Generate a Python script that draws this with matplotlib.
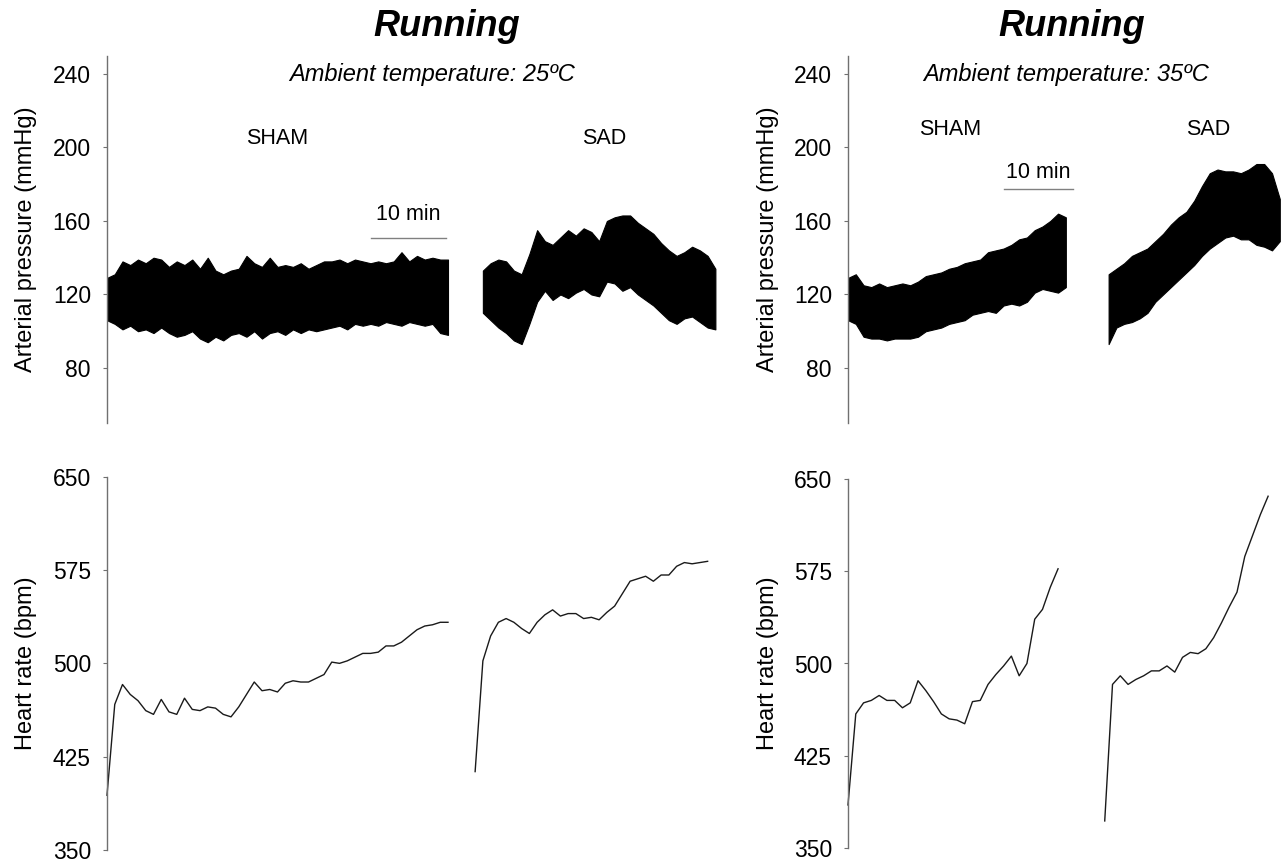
import numpy as np
import matplotlib
matplotlib.use("Agg")
import matplotlib.pyplot as plt

plt.rcParams['font.family'] = ['Liberation Sans', 'DejaVu Sans']

# ---- arterial pressure envelopes (mmHg), one sample per minute ----
# 25 C, SHAM
ap25_sham_hi = [129, 131, 138, 136, 139, 137, 140, 139, 135, 138, 136, 139, 134, 140, 133,
                131, 133, 134, 141, 137, 135, 140, 135, 136, 135, 137, 134, 136, 138, 138,
                139, 137, 139, 138, 137, 138, 137, 138, 143, 138, 141, 139, 140, 139, 139]
ap25_sham_lo = [106, 104, 101, 103, 100, 101, 99, 102, 99, 97, 98, 100, 96, 94, 97,
                95, 98, 99, 97, 100, 96, 99, 100, 98, 101, 99, 101, 100, 101, 102,
                103, 101, 104, 103, 104, 103, 105, 104, 103, 105, 104, 103, 104, 99, 98]
# 25 C, SAD (starts at 48.5 min)
ap25_sad_hi = [133, 137, 139, 138, 133, 131, 142, 155, 149, 147, 151, 155, 152, 156, 154,
               149, 160, 162, 163, 163, 159, 156, 153, 148, 144, 141, 143, 146, 144, 141, 134]
ap25_sad_lo = [110, 106, 102, 99, 95, 93, 104, 116, 122, 117, 120, 118, 121, 123, 120,
               119, 127, 126, 122, 124, 120, 117, 114, 110, 106, 104, 107, 108, 105, 102, 101]
# 35 C, SHAM
ap35_sham_hi = [129, 131, 125, 124, 126, 124, 125, 126, 125, 127, 130, 131, 132, 134, 135,
                137, 138, 139, 143, 144, 145, 147, 150, 151, 155, 157, 160, 164, 162]
ap35_sham_lo = [106, 104, 97, 96, 96, 95, 96, 96, 96, 97, 100, 101, 102, 104, 105,
                106, 109, 110, 111, 110, 114, 115, 114, 116, 121, 123, 122, 121, 124]
# 35 C, SAD (starts at 33.5 min)
ap35_sad_hi = [131, 134, 137, 141, 143, 145, 149, 153, 158, 162, 165, 171, 179, 186, 188,
               187, 187, 186, 188, 191, 191, 186, 172]
ap35_sad_lo = [93, 102, 104, 105, 107, 110, 116, 120, 124, 128, 132, 136, 141, 145, 148,
               151, 152, 150, 150, 147, 146, 144, 149]

# ---- heart rate (bpm), one sample per minute ----
hr25_sham = [394, 467, 483, 475, 470, 462, 459, 471, 461, 459, 472, 463, 462, 465, 464,
             459, 457, 465, 475, 485, 478, 479, 477, 484, 486, 485, 485, 488, 491, 501,
             500, 502, 505, 508, 508, 509, 514, 514, 517, 522, 527, 530, 531, 533, 533]
hr25_sad = [413, 502, 522, 533, 536, 533, 528, 524, 533, 539, 543, 538, 540, 540, 536,
            537, 535, 541, 546, 556, 566, 568, 570, 566, 571, 571, 578, 581, 580, 581, 582]
hr35_sham = [385, 459, 468, 470, 474, 470, 470, 464, 468, 486, 478, 469, 459, 455,
             454, 451, 469, 470, 483, 491, 498, 506, 490, 500, 536, 544, 562, 577]
hr35_sad = [372, 483, 490, 483, 487, 490, 494, 494, 498, 493, 505, 509, 508, 512,
            521, 533, 546, 558, 587, 604, 621, 636]

t_ap25_sham = np.arange(len(ap25_sham_hi))
t_ap25_sad = 48.5 + np.arange(len(ap25_sad_hi))
t_ap35_sham = np.arange(len(ap35_sham_hi))
t_ap35_sad = 33.5 + np.arange(len(ap35_sad_hi))
t_hr25_sham = np.arange(len(hr25_sham))
t_hr25_sad = 47.5 + np.arange(len(hr25_sad))
t_hr35_sham = np.arange(len(hr35_sham))
t_hr35_sad = 33.0 + np.arange(len(hr35_sad))

W, H = 1286, 863
fig = plt.figure(figsize=(W / 100, H / 100), dpi=100)


def add_ax(x0, x1, ytop, ybot):
    return fig.add_axes([x0 / W, 1 - ybot / H, (x1 - x0) / W, (ybot - ytop) / H])


def style(ax, xmax, ylim, ticks, label, label_x):
    for s in ('top', 'right', 'bottom'):
        ax.spines[s].set_visible(False)
    ax.spines['left'].set_color('#707070')
    ax.spines['left'].set_linewidth(1.0)
    ax.set_xlim(0, xmax)
    ax.set_ylim(*ylim)
    ax.set_yticks(ticks)
    ax.set_xticks([])
    ax.tick_params(axis='y', length=2.6, width=0.8, color='#707070',
                   labelsize=16.5, pad=9)
    ax.set_ylabel(label, fontsize=17)
    ax.yaxis.label.set_va('center')
    ax.yaxis.set_label_coords(label_x, 0.5)


ap_ticks = [80, 120, 160, 200, 240]
hr_ticks = [350, 425, 500, 575, 650]

ax_ap25 = add_ax(107, 727, 55.6, 423.1)
ax_hr25 = add_ax(107, 727, 476.7, 850)
ax_ap35 = add_ax(848, 1286, 55.6, 423.1)
ax_hr35 = add_ax(848, 1286, 479, 848)

style(ax_ap25, 80, (50, 250), ap_ticks, 'Arterial pressure (mmHg)', -0.131)
style(ax_hr25, 80, (350, 650), hr_ticks, 'Heart rate (bpm)', -0.131)
style(ax_ap35, 56.3, (50, 250), ap_ticks, 'Arterial pressure (mmHg)', -0.183)
style(ax_hr35, 56.3, (350, 650), hr_ticks, 'Heart rate (bpm)', -0.183)

# pressure traces drawn as filled min/max envelopes
for ax, t, lo, hi in [(ax_ap25, t_ap25_sham, ap25_sham_lo, ap25_sham_hi),
                      (ax_ap25, t_ap25_sad, ap25_sad_lo, ap25_sad_hi),
                      (ax_ap35, t_ap35_sham, ap35_sham_lo, ap35_sham_hi),
                      (ax_ap35, t_ap35_sad, ap35_sad_lo, ap35_sad_hi)]:
    ax.fill_between(t, lo, hi, facecolor='black', edgecolor='black', lw=0.8)

for ax, t, hr in [(ax_hr25, t_hr25_sham, hr25_sham), (ax_hr25, t_hr25_sad, hr25_sad),
                  (ax_hr35, t_hr35_sham, hr35_sham), (ax_hr35, t_hr35_sad, hr35_sad)]:
    ax.plot(t, hr, color='#1a1a1a', lw=1.0, clip_on=False)

# 10 min scale bars
ax_ap25.plot([34, 43.7], [151, 151], color='#808080', lw=1.0)
ax_ap25.text(38.9, 163.5, '10 min', ha='center', va='center', fontsize=15.5)
ax_ap35.plot([20.1, 28.9], [177.5, 177.5], color='#808080', lw=1.0)
ax_ap35.text(24.5, 186.5, '10 min', ha='center', va='center', fontsize=15.5)

# group labels
ax_ap25.text(22, 205, 'SHAM', ha='center', va='center', fontsize=15.5)
ax_ap25.text(64.2, 205, 'SAD', ha='center', va='center', fontsize=15.5)
ax_ap35.text(13.1, 210, 'SHAM', ha='center', va='center', fontsize=15.5)
ax_ap35.text(46.3, 210, 'SAD', ha='center', va='center', fontsize=15.5)

fig.text(447 / W, 1 - 27 / H, 'Running', ha='center', va='center',
         fontsize=26, weight='bold', style='italic')
fig.text(1072 / W, 1 - 27 / H, 'Running', ha='center', va='center',
         fontsize=26, weight='bold', style='italic')
fig.text(432 / W, 1 - 75 / H, 'Ambient temperature: 25ºC', ha='center', va='center',
         fontsize=17, style='italic')
fig.text(1066 / W, 1 - 75 / H, 'Ambient temperature: 35ºC', ha='center', va='center',
         fontsize=17, style='italic')

fig.savefig('out.png', dpi=100, facecolor='white')
